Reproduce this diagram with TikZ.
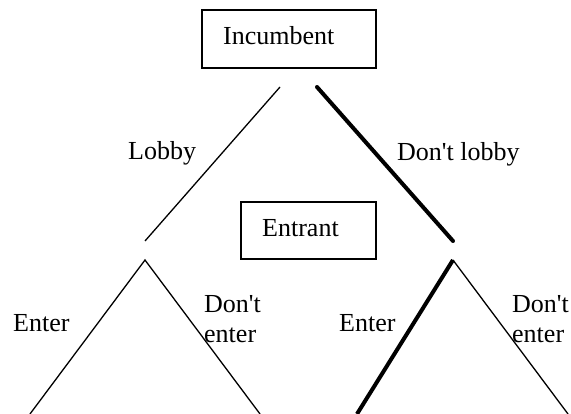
\documentclass[tikz,border=0pt]{standalone}
\usepackage{fontspec}
\setmainfont{Liberation Serif}[Ligatures=TeXOff]
\begin{document}
\begin{tikzpicture}[x=1pt,y=-1pt,
  box/.style={draw,line width=1.3pt,inner sep=0pt},
  lbl/.style={anchor=base west,inner sep=0pt,font=\fontsize{26}{30}\selectfont},
  thin/.style={line width=1.3pt},
  thick/.style={line width=4pt}]
\useasboundingbox (0,0) rectangle (571,414);
\clip (0,0) rectangle (571,414);
% boxes
\node[box,minimum width=174pt,minimum height=58pt] (inc) at (289,39) {};
\node[lbl] (inct) at (223,45) {Incumbent};
\node[box,minimum width=135pt,minimum height=57pt] (ent) at (308.5,230.5) {};
\node[lbl] (entt) at (262,237) {Entrant};
% coordinates
\coordinate (lt) at (280,87);
\coordinate (rt) at (317,87);
\coordinate (le) at (145,241);
\coordinate (re) at (453,241);
\coordinate (la) at (145,260);
\coordinate (ra) at (453,260);
\coordinate (l1) at (30,414);
\coordinate (l2) at (260,414);
\coordinate (r1) at (357,414);
\coordinate (r2) at (568,414);
% lines
\draw[thin] (lt) -- (le);
\draw[thick,line cap=round] (rt) -- (re);
\draw[thin] (l1) -- (la) -- (l2);
\draw[thick] (r1) -- (ra);
\draw[thin] (ra) -- (r2);
% labels
\node[lbl] (lob) at (128,160) {Lobby};
\node[lbl] (dlob) at (397,161) {Don't lobby};
\node[lbl] (en1) at (13,332) {Enter};
\node[lbl] (en2) at (339,332) {Enter};
\node[lbl] (dn1) at (204,313) {Don't};
\node[lbl] (dn1b) at (204,343) {enter};
\node[lbl] (dn2) at (512,313) {Don't};
\node[lbl] (dn2b) at (512,343) {enter};
\end{tikzpicture}
\end{document}
